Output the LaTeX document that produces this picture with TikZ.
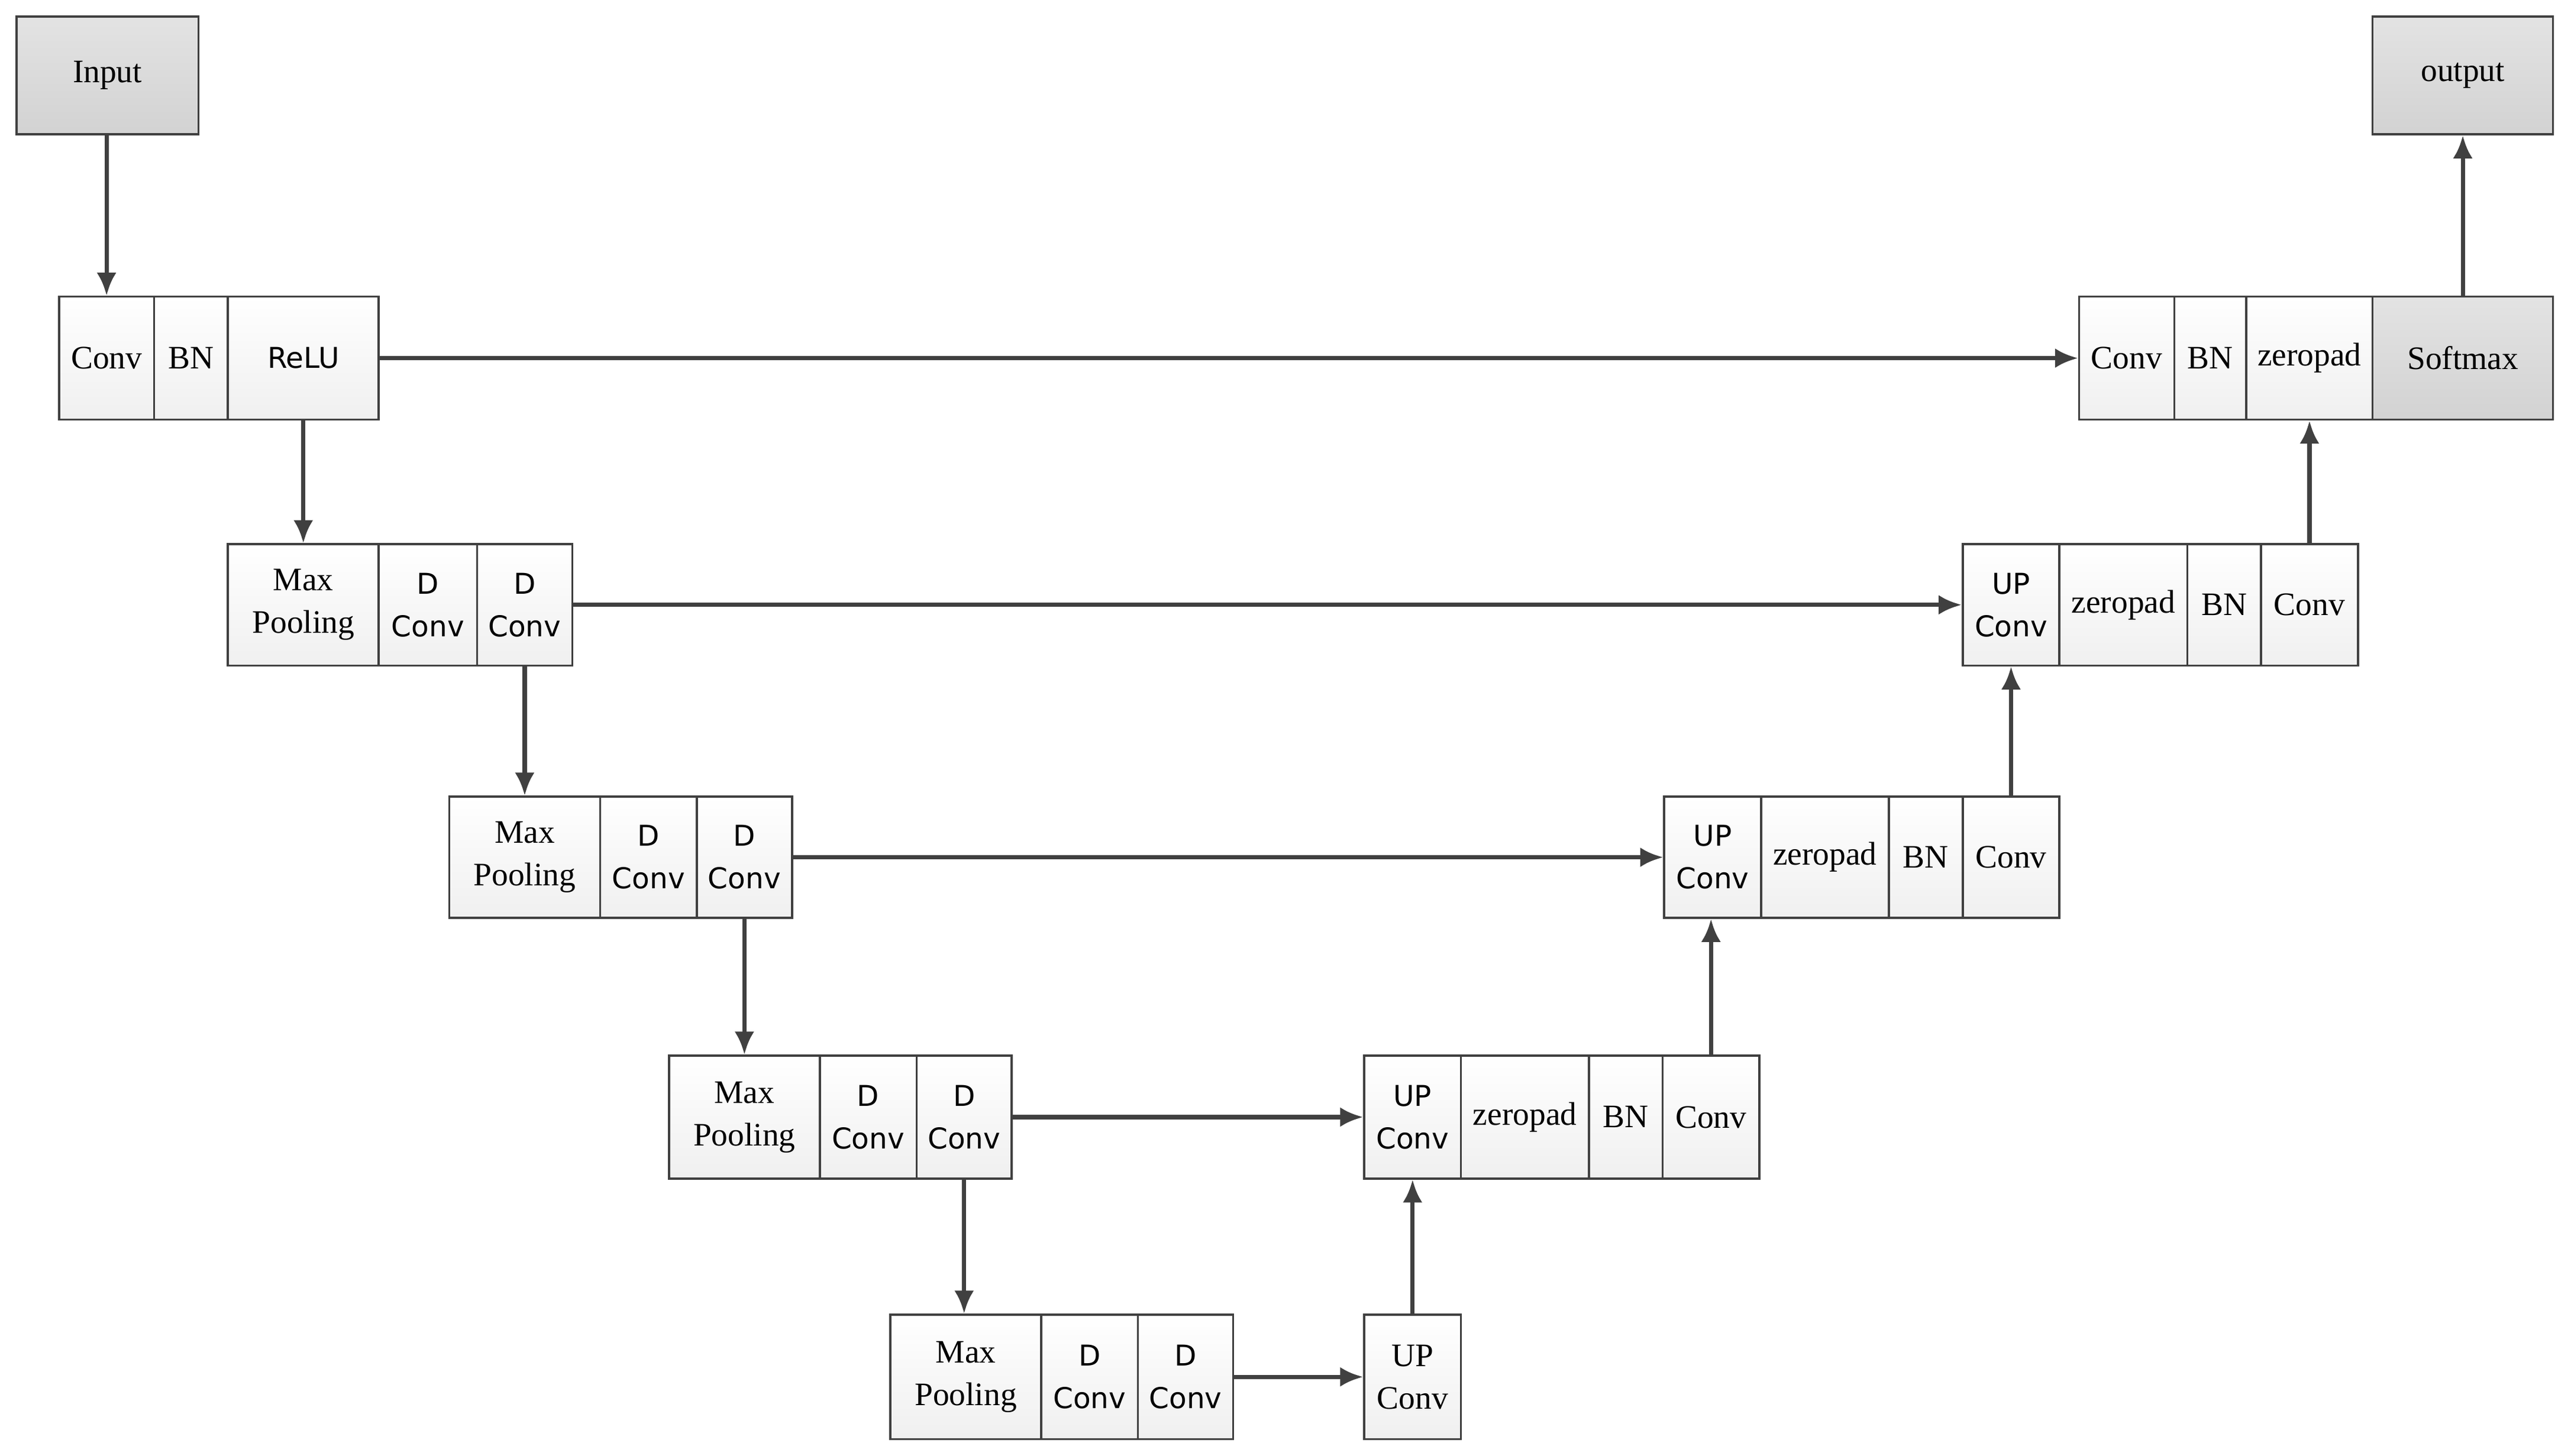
\documentclass[tikz,border=0pt]{standalone}
\usepackage{fontspec}
\setmainfont{Liberation Serif}
\newfontfamily\sansf{DejaVu Sans}
\usetikzlibrary{arrows.meta}
\definecolor{ln}{HTML}{404040}
\tikzset{
 cell/.style={draw=ln,line width=1.3pt,top color=white,bottom color=gray!12,inner sep=0pt,align=center,font=\fontsize{20}{26}\selectfont},
 dark/.style={cell,top color=gray!22,bottom color=gray!35},
 sn/.style={font=\sansf\fontsize{17.5}{26}\selectfont},
 arr/.style={draw=ln,line width=2.6pt,-{Latex[length=14pt,width=12pt]}}
}
\newcommand{\cell}[7][]{\node[cell,#1,minimum width=#4-#3,minimum height=#6-#5] (#2) at ({(#3+#4)/2},{(#5+#6)/2}) {#7};}
\begin{document}
\begin{tikzpicture}[x=1pt,y=-1pt]
\useasboundingbox (0,0) rectangle (1568,888);
\cell[dark]{in}{10}{121}{10}{82}{Input}
\cell[dark]{out}{1447}{1557}{10}{82}{output}
% row1
\cell{a1}{36}{94}{181}{256}{Conv}
\cell{a2}{94}{139}{181}{256}{BN}
\cell[sn]{a3}{139}{231}{181}{256}{ReLU}
\cell{o1}{1268}{1326}{181}{256}{Conv}
\cell{o2}{1326}{1370}{181}{256}{BN}
\cell{o3}{1370}{1447}{181}{256}{zeropad}
\cell[dark]{o4}{1447}{1557}{181}{256}{Softmax}
% row2
\cell{b1}{139}{231}{332}{406}{Max\\Pooling}
\cell[sn]{b2}{231}{291}{332}{406}{D\\Conv}
\cell[sn]{b3}{291}{349}{332}{406}{D\\Conv}
\cell[sn]{p1}{1197}{1256}{332}{406}{UP\\Conv}
\cell{p2}{1256}{1334}{332}{406}{zeropad}
\cell{p3}{1334}{1379}{332}{406}{BN}
\cell{p4}{1379}{1438}{332}{406}{Conv}
% row3
\cell{c1}{274}{366}{486}{560}{Max\\Pooling}
\cell[sn]{c2}{366}{425}{486}{560}{D\\Conv}
\cell[sn]{c3}{425}{483}{486}{560}{D\\Conv}
\cell[sn]{q1}{1015}{1074}{486}{560}{UP\\Conv}
\cell{q2}{1074}{1152}{486}{560}{zeropad}
\cell{q3}{1152}{1197}{486}{560}{BN}
\cell{q4}{1197}{1256}{486}{560}{Conv}
% row4
\cell{d1}{408}{500}{644}{719}{Max\\Pooling}
\cell[sn]{d2}{500}{559}{644}{719}{D\\Conv}
\cell[sn]{d3}{559}{617}{644}{719}{D\\Conv}
\cell[sn]{r1}{832}{891}{644}{719}{UP\\Conv}
\cell{r2}{891}{969}{644}{719}{zeropad}
\cell{r3}{969}{1014}{644}{719}{BN}
\cell{r4}{1014}{1073}{644}{719}{Conv}
% row5
\cell{e1}{543}{635}{802}{878}{Max\\Pooling}
\cell[sn]{e2}{635}{694}{802}{878}{D\\Conv}
\cell[sn]{e3}{694}{752}{802}{878}{D\\Conv}
\cell{s1}{832}{891}{802}{878}{UP\\Conv}
% arrows
\draw[arr] (in.south -| a1.north) -- (a1.north);
\draw[arr] (a3.south) -- (a3.south |- b1.north);
\draw[arr] (b3.south) -- (b3.south |- c1.north);
\draw[arr] (c3.south) -- (c3.south |- d1.north);
\draw[arr] (d3.south) -- (d3.south |- e1.north);
\draw[arr] (a3.east) -- (o1.west);
\draw[arr] (b3.east) -- (p1.west);
\draw[arr] (c3.east) -- (q1.west);
\draw[arr] (d3.east) -- (r1.west);
\draw[arr] (e3.east) -- (s1.west);
\draw[arr] (s1.north) -- (r1.south);
\draw[arr] (r4.north) -- (r4.north |- q1.south);
\draw[arr] (q4.north) -- (q4.north |- p1.south);
\draw[arr] (p4.north) -- (p4.north |- o3.south);
\draw[arr] (o4.north) -- (out.south);
\end{tikzpicture}
\end{document}
